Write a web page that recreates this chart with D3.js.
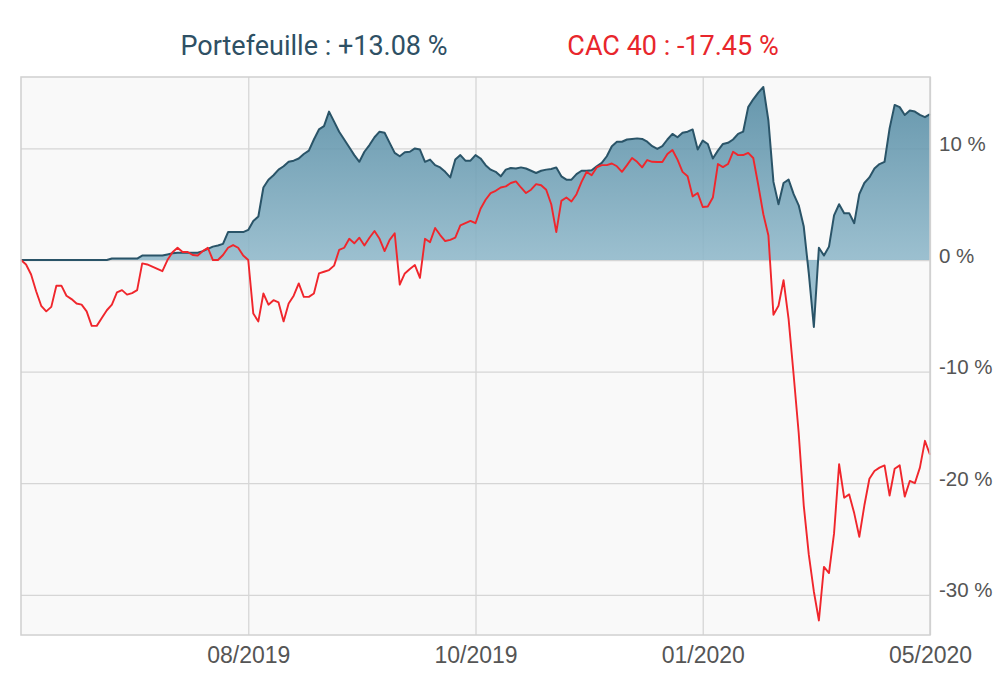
<!DOCTYPE html>
<html lang="fr">
<head>
  <meta charset="utf-8">
  <title>Portefeuille vs CAC 40</title>
  <style>
    html, body { margin:0; padding:0; background:#fff; }
    svg { display:block; font-family:Roboto, "Noto Sans", sans-serif; }
  </style>
</head>
<body>
  <svg id="chart" width="1008" height="689"></svg>
  <script src="https://d3js.org/d3.v7.min.js"></script>
  <script>
    // performance cumulée (%), une valeur par pas régulier
    const portefeuille = [
      0,0,0,0,0,0,0,0,0,0,
      0,0,0,0,0,0,0,0,0.13,0.13,
      0.13,0.13,0.13,0.13,0.4,0.4,0.4,0.4,0.4,0.5,
      0.6,0.65,0.65,0.65,0.65,0.65,0.8,1.0,1.2,1.3,
      1.45,2.5,2.5,2.5,2.5,2.7,3.5,3.9,6.5,7.2,
      7.6,8.1,8.4,8.8,8.9,9.1,9.5,9.8,10.8,11.7,
      12.0,13.3,12.4,11.5,10.8,10.1,9.4,8.8,9.7,10.3,
      11.0,11.5,11.4,10.5,9.6,9.3,9.65,9.7,10.0,9.9,
      8.8,9.0,8.5,8.3,7.9,7.4,9.0,9.4,8.9,8.9,
      9.4,9.1,8.5,8.1,7.9,7.5,8.1,8.25,8.2,8.3,
      8.2,8.0,7.8,8.0,8.1,8.15,8.3,7.5,7.2,7.2,
      7.7,8.0,8.0,8.05,8.4,8.7,9.3,10.2,10.6,10.6,
      10.8,10.85,10.9,10.85,10.6,10.2,9.95,10.2,10.8,11.3,
      11.0,11.4,11.5,11.7,9.9,10.7,10.4,9.1,9.8,10.4,
      10.5,10.8,11.3,11.5,13.7,14.4,15.0,15.5,12.5,7.0,
      5.0,6.9,7.2,5.9,4.9,3.0,-1.2,-6.0,1.1,0.4,
      1.2,4.0,5.0,4.2,4.2,3.3,5.9,6.9,7.4,8.2,
      8.6,8.8,11.8,13.9,13.7,13.0,13.4,13.3,13.0,12.8,
      13.08
    ];

    const cac40 = [
      0,-0.4,-1.3,-2.8,-4.1,-4.6,-4.2,-2.3,-2.3,-3.2,
      -3.5,-3.9,-4.0,-4.6,-5.9,-5.9,-5.2,-4.5,-4.0,-2.9,
      -2.7,-3.1,-2.96,-2.7,-0.3,-0.4,-0.6,-0.8,-1.0,0.0,
      0.7,1.1,0.72,0.72,0.45,0.4,0.8,1.1,0.0,0.0,
      0.45,1.1,1.34,1.1,0.4,0.0,-4.8,-5.5,-3.0,-4.0,
      -3.6,-3.8,-5.5,-3.9,-3.2,-2.1,-3.3,-3.3,-3.0,-1.2,
      -1.05,-0.9,-0.5,0.9,1.1,1.9,1.5,2.0,1.3,2.0,
      2.6,1.9,0.8,1.8,2.4,-2.2,-1.2,-0.8,-0.45,-1.6,
      1.9,1.6,2.87,2.24,1.7,1.8,2.0,3.1,3.3,3.5,
      3.3,4.6,5.4,6.0,6.2,6.5,6.6,6.9,7.05,6.5,
      6.0,6.3,6.8,6.7,6.3,5.0,2.5,5.3,5.6,5.25,
      5.9,7.0,7.9,7.6,8.3,8.5,8.5,8.65,8.4,7.9,
      8.5,9.14,8.8,8.3,8.96,8.8,8.78,8.78,9.5,9.86,
      9.0,7.9,7.5,5.7,6.0,4.75,4.8,5.6,8.6,8.33,
      8.6,9.7,9.4,9.41,9.6,9.14,6.7,4.1,2.2,-4.9,
      -4.1,-1.8,-5.3,-10.3,-15.5,-22.0,-26.4,-29.7,-32.3,-27.5,
      -28.05,-24.5,-18.3,-21.3,-21.0,-22.7,-24.8,-22.0,-19.6,-18.9,
      -18.6,-18.4,-21.1,-18.7,-18.4,-21.2,-19.8,-20.0,-18.6,-16.2,
      -17.45
    ];

    const tickIndex  = [45, 90, 135, 180];
    const tickLabels = ["08/2019", "10/2019", "01/2020", "05/2020"];
    const yTicks     = [10, 0, -10, -20, -30];
    const perfPortefeuille = "+13.08";
    const perfCac          = "-17.45";

    const width = 1008, height = 689;
    const margin = {top: 77, right: 78, bottom: 54, left: 21};

    const svg = d3.select("#chart");

    const x = d3.scaleLinear()
      .domain([0, portefeuille.length - 1])
      .range([margin.left, width - margin.right]);

    const y = d3.scaleLinear()
      .domain([-33.6, 16.4])
      .range([height - margin.bottom, margin.top]);

    // fond du graphique
    svg.append("rect")
      .attr("x", margin.left).attr("y", margin.top)
      .attr("width", x.range()[1] - margin.left)
      .attr("height", y.range()[0] - margin.top)
      .attr("fill", "#f9f9f9");

    // grille horizontale + labels à droite
    const yAxis = d3.axisRight(y)
      .tickValues(yTicks)
      .tickSize(-(x.range()[1] - margin.left))
      .tickPadding(9)
      .tickFormat(d => d + " %");

    svg.append("g")
      .attr("transform", `translate(${x.range()[1]},0)`)
      .call(yAxis)
      .call(g => g.select(".domain").remove())
      .call(g => g.selectAll(".tick line").attr("stroke", "#d6d6d6").attr("stroke-width", 1.3))
      .call(g => g.selectAll(".tick text")
        .attr("fill", "#555").attr("font-size", 20.5).attr("dy", "0.1em"));

    // grille verticale + dates
    const xAxis = d3.axisBottom(x)
      .tickValues(tickIndex)
      .tickSize(-(y.range()[0] - margin.top))
      .tickPadding(12)
      .tickFormat((d, i) => tickLabels[i]);

    svg.append("g")
      .attr("transform", `translate(0,${y.range()[0]})`)
      .call(xAxis)
      .call(g => g.select(".domain").remove())
      .call(g => g.selectAll(".tick line").attr("stroke", "#d6d6d6").attr("stroke-width", 1.3))
      .call(g => g.selectAll(".tick text")
        .attr("fill", "#555").attr("font-size", 23));

    // dégradé de la zone portefeuille
    const grad = svg.append("defs").append("linearGradient")
      .attr("id", "fillPf")
      .attr("gradientUnits", "userSpaceOnUse")
      .attr("x1", 0).attr("x2", 0)
      .attr("y1", y(16)).attr("y2", y(0));
    grad.append("stop").attr("offset", "0%").attr("stop-color", "#4f87a0");
    grad.append("stop").attr("offset", "100%").attr("stop-color", "#8fb8ca");

    const area = d3.area()
      .x((d, i) => x(i))
      .y0(y(0))
      .y1(d => y(d));

    const line = d3.line()
      .x((d, i) => x(i))
      .y(d => y(d));

    svg.append("path")
      .datum(portefeuille)
      .attr("d", area)
      .attr("fill", "url(#fillPf)")
      .attr("fill-opacity", 0.88);

    svg.append("path")
      .datum(portefeuille)
      .attr("d", line)
      .attr("fill", "none")
      .attr("stroke", "#2a5468")
      .attr("stroke-width", 2)
      .attr("stroke-linejoin", "round");

    svg.append("path")
      .datum(cac40)
      .attr("d", line)
      .attr("fill", "none")
      .attr("stroke", "#f0262c")
      .attr("stroke-width", 1.9)
      .attr("stroke-linejoin", "round");

    // cadre
    svg.append("rect")
      .attr("x", margin.left).attr("y", margin.top)
      .attr("width", x.range()[1] - margin.left)
      .attr("height", y.range()[0] - margin.top)
      .attr("fill", "none")
      .attr("stroke", "#d0d0d0")
      .attr("stroke-width", 1.5);

    // légende en haut
    svg.append("text")
      .attr("x", 314).attr("y", 55)
      .attr("text-anchor", "middle")
      .attr("font-size", 27)
      .attr("fill", "#2e5064")
      .text(`Portefeuille : ${perfPortefeuille} %`);

    svg.append("text")
      .attr("x", 673).attr("y", 55)
      .attr("text-anchor", "middle")
      .attr("font-size", 27)
      .attr("fill", "#e8262c")
      .text(`CAC 40 : ${perfCac} %`);
  </script>
</body>
</html>
